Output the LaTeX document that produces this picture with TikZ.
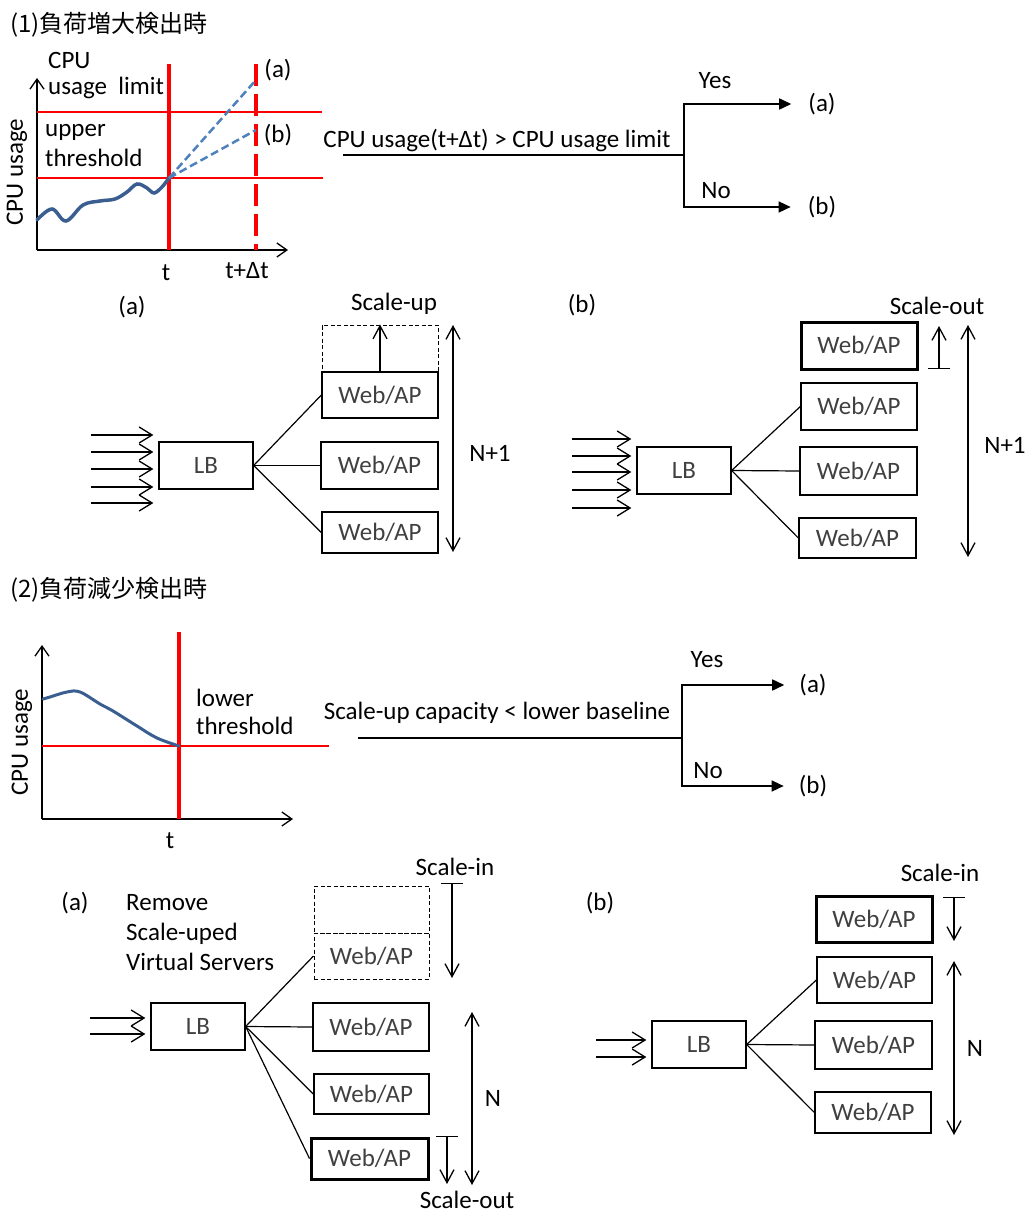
\documentclass[tikz,border=0pt]{standalone}
\usepackage{fontspec}
\setmainfont{Carlito}
\newfontfamily\jpfont{Noto Sans CJK JP}
\usepackage{xcolor}
\usetikzlibrary{arrows.meta}
\definecolor{curveblue}{RGB}{59,94,145}
\definecolor{trendblue}{RGB}{79,129,189}
\definecolor{boxgray}{RGB}{64,64,64}
\tikzset{
  box/.style={draw,line width=1.3pt,minimum width=116pt,minimum height=46pt,inner sep=0pt,text=boxgray},
  lbbox/.style={box,minimum width=94pt,minimum height=47pt},
  newbox/.style={box,line width=3pt},
  ghostbox/.style={box,line width=1pt,dash pattern=on 4pt off 2.5pt},
  link/.style={line width=1.2pt},
  inarrow/.style={line width=1.3pt,shorten >=5pt,-{Straight Barb[length=13pt,width=16pt,line width=1.3pt]}},
  spanarrow/.style={line width=1.3pt,{Straight Barb[length=13pt,width=14pt,line width=1.3pt]}-{Straight Barb[length=13pt,width=14pt,line width=1.3pt]}},
  movearrow/.style={line width=1.3pt,{Bar[width=22pt,line width=1.3pt]}-{Straight Barb[length=13pt,width=14pt,line width=1.3pt]}},
  flow/.style={line width=1.5pt,-{Triangle[length=12pt,width=11pt]}},
  graphaxis/.style={line width=1.3pt,-{Straight Barb[length=10pt,width=14pt,line width=1.3pt]}},
  limitline/.style={red,line width=1.3pt},
  nowline/.style={red,line width=3.5pt},
  laterline/.style={red,line width=3.5pt,dash pattern=on 22pt off 8pt},
  lbl/.style={inner sep=0pt}
}
\begin{document}
\begin{tikzpicture}[x=1pt,y=-1pt,font=\fontsize{25}{30}\selectfont]
\fill[white] (0,0) rectangle (1027,1214);
\useasboundingbox (0,0) rectangle (1027,1214);

\node[lbl,anchor=west] (titleA) at (10,25) {\jpfont\fontsize{24}{30}\selectfont (1)負荷増大検出時};
\draw[graphaxis] (37,250) -- (37,78);
\draw[graphaxis] (37,250) -- (288,250);
\draw[limitline] (37,112) -- (322,112);
\draw[limitline] (37,178) -- (323,178);
\draw[nowline] (169,64) -- (169,250);
\draw[laterline] (256,64) -- (256,250);
\draw[curveblue,line width=3.5pt,line cap=round] plot[smooth,tension=0.6] coordinates {(37,220) (52,209) (66,221) (83,205) (100,201) (115,199) (127,192) (137,184) (147,188) (154,193) (162,187) (169,178)};
\draw[trendblue,line width=2.5pt,dash pattern=on 8pt off 4pt] (169,178) -- (256,80);
\draw[trendblue,line width=2.5pt,dash pattern=on 8pt off 4pt] (169,178) -- (256,130);
\node[lbl,anchor=west] (cpuA) at (48,60) {CPU};
\node[lbl,anchor=west] (limitA) at (48,88) {usage\ \ limit};
\node[lbl,anchor=west] (upperA) at (45,132) {upper};
\node[lbl,anchor=west] (threshA) at (45,158) {threshold};
\node[lbl] (trendA) at (278,70) {(a)};
\node[lbl] (trendB) at (278,135) {(b)};
\node[lbl,rotate=90] (yA) at (17,172) {CPU usage};
\node[lbl] (tA) at (166,273) {t};
\node[lbl] (tdA) at (247,271) {t+Δt};

\node[lbl] (condA) at (497,141) {CPU usage(t+Δt) > CPU usage limit};
\coordinate (startA) at (343,155);
\coordinate (forkA) at (684,155);
\node[lbl] (resA1) at (822,104) {(a)};
\node[lbl] (resA2) at (822,207) {(b)};
\draw[link] (startA) -- (forkA);
\draw[flow,shorten >=17pt] (forkA) |- (resA1.west);
\draw[flow,shorten >=17pt] (forkA) |- (resA2.west);
\node[lbl] (yesA) at (715,81) {Yes};
\node[lbl] (noA) at (716,191) {No};

\node[lbl] (capA) at (132,307) {(a)};
\node[lbl] (upA) at (394,304) {Scale-up};
\node[ghostbox,minimum height=47pt] (ghostA) at (380,348.5) {};
\node[box] (webA1) at (380,395) {Web/AP};
\node[box,minimum width=117pt,minimum height=47pt] (webA2) at (379.5,465.5) {Web/AP};
\node[box,minimum height=41pt] (webA3) at (380,532.5) {Web/AP};
\node[lbbox] (lbA) at (206,465.5) {LB};
\draw[link] (lbA.east) -- (webA1.west);
\draw[link] (lbA.east) -- (webA2.west);
\draw[link] (lbA.east) -- (webA3.west);
\draw[line width=1.3pt,-{Straight Barb[length=13pt,width=14pt,line width=1.3pt]}] (webA1.north) -- (ghostA.north);
\foreach \y [count=\i] in {435,452,469,487,503}{
  \coordinate (inA\i) at (91,\y);
  \draw[inarrow] (inA\i) -- (inA\i -| lbA.west);
}
\coordinate (nA1) at (453,325);
\coordinate (nA2) at (453,552);
\draw[spanarrow] (nA1) -- (nA2);
\node[lbl] (countA) at (490,453) {N+1};

\node[lbl] (capB) at (582,305) {(b)};
\node[lbl] (outB) at (937,306) {Scale-out};
\node[newbox,minimum height=47pt] (newB) at (859,345.5) {Web/AP};
\node[box,minimum height=47pt] (webB1) at (859,406.5) {Web/AP};
\node[box,minimum width=117pt,minimum height=48pt] (webB2) at (858.5,471) {Web/AP};
\node[box,minimum width=117pt,minimum height=40pt] (webB3) at (857.5,538) {Web/AP};
\node[lbbox] (lbB) at (684,470.5) {LB};
\draw[link] (lbB.east) -- (webB1.west);
\draw[link] (lbB.east) -- (webB2.west);
\draw[link] (lbB.east) -- (webB3.west);
\coordinate (mvB1) at (939,369);
\coordinate (mvB2) at (939,326);
\draw[movearrow] (mvB1) -- (mvB2);
\foreach \y [count=\i] in {439,456,472,490,508}{
  \coordinate (inB\i) at (572,\y);
  \draw[inarrow] (inB\i) -- (inB\i -| lbB.west);
}
\coordinate (nB1) at (968,325);
\coordinate (nB2) at (968,557);
\draw[spanarrow] (nB1) -- (nB2);
\node[lbl] (countB) at (1005,445) {N+1};

\node[lbl,anchor=west] (titleB) at (10,590) {\jpfont\fontsize{24}{30}\selectfont (2)負荷減少検出時};
\draw[graphaxis] (42,819) -- (42,645);
\draw[graphaxis] (42,819) -- (293,819);
\draw[limitline] (42,746) -- (329,746);
\draw[nowline] (179,632) -- (179,819);
\draw[curveblue,line width=3pt,line cap=round] plot[smooth,tension=0.6] coordinates {(43,699) (50,697) (67,692) (80,692) (100,704) (113,711) (137,726) (157,738) (179,746)};
\node[lbl,anchor=west] (lowerC) at (196,698) {lower};
\node[lbl,anchor=west] (threshC) at (196,726) {threshold};
\node[lbl,rotate=90] (yC) at (22,742) {CPU usage};
\node[lbl] (tC) at (170,841) {t};

\node[lbl] (condC) at (497,713) {Scale-up capacity < lower baseline};
\coordinate (startC) at (358,738);
\coordinate (forkC) at (682,738);
\node[lbl] (resC1) at (813,685) {(a)};
\node[lbl] (resC2) at (813,786) {(b)};
\draw[link] (startC) -- (forkC);
\draw[flow,shorten >=15pt] (forkC) |- (resC1.west);
\draw[flow,shorten >=15pt] (forkC) |- (resC2.west);
\node[lbl] (yesC) at (707,660) {Yes};
\node[lbl] (noC) at (708,771) {No};

\node[lbl] (capC) at (75,903) {(a)};
\node[lbl,anchor=west,align=left] (removeC) at (126,933) {Remove\\Scale-uped\\Virtual Servers};
\node[lbl] (inC) at (455,867) {Scale-in};
\node[ghostbox,minimum width=115pt,minimum height=47pt] (ghostC1) at (371.5,909.5) {};
\node[ghostbox,minimum width=115pt] (ghostC2) at (371.5,956) {Web/AP};
\node[box,minimum height=48pt] (webC1) at (371,1027) {Web/AP};
\node[box,minimum width=115pt,minimum height=40pt] (webC2) at (371.5,1094) {Web/AP};
\node[newbox,minimum width=117pt,minimum height=41pt] (oldC) at (369.5,1158.5) {Web/AP};
\node[lbbox] (lbC) at (198,1026.5) {LB};
\draw[link] (lbC.east) -- (ghostC2.west);
\draw[link] (lbC.east) -- (webC1.west);
\draw[link] (lbC.east) -- (webC2.west);
\draw[link] (lbC.east) -- (oldC.west);
\coordinate (mvC1) at (452,883);
\coordinate (mvC2) at (452,978);
\draw[movearrow] (mvC1) -- (mvC2);
\coordinate (mvC3) at (447,1136);
\coordinate (mvC4) at (447,1184);
\draw[movearrow] (mvC3) -- (mvC4);
\foreach \y [count=\i] in {1018,1034}{
  \coordinate (inC\i) at (90,\y);
  \draw[inarrow] (inC\i) -- (inC\i -| lbC.west);
}
\coordinate (nC1) at (472,1012);
\coordinate (nC2) at (472,1185);
\draw[spanarrow] (nC1) -- (nC2);
\node[lbl] (countC) at (493,1098) {N};
\node[lbl] (outC) at (467,1200) {Scale-out};

\node[lbl] (capD) at (600,903) {(b)};
\node[lbl] (inD) at (940,873) {Scale-in};
\node[newbox] (oldD) at (874,919) {Web/AP};
\node[box,minimum width=115pt] (webD1) at (874.5,980) {Web/AP};
\node[box,minimum width=117pt,minimum height=48pt] (webD2) at (873.5,1045) {Web/AP};
\node[box,minimum height=41pt] (webD3) at (873,1112.5) {Web/AP};
\node[lbbox] (lbD) at (699,1044.5) {LB};
\draw[link] (lbD.east) -- (webD1.west);
\draw[link] (lbD.east) -- (webD2.west);
\draw[link] (lbD.east) -- (webD3.west);
\coordinate (mvD1) at (954,897);
\coordinate (mvD2) at (954,941);
\draw[movearrow] (mvD1) -- (mvD2);
\foreach \y [count=\i] in {1040,1057}{
  \coordinate (inD\i) at (596,\y);
  \draw[inarrow] (inD\i) -- (inD\i -| lbD.west);
}
\coordinate (nD1) at (954,961);
\coordinate (nD2) at (954,1135);
\draw[spanarrow] (nD1) -- (nD2);
\node[lbl] (countD) at (975,1048) {N};
\end{tikzpicture}
\end{document}
